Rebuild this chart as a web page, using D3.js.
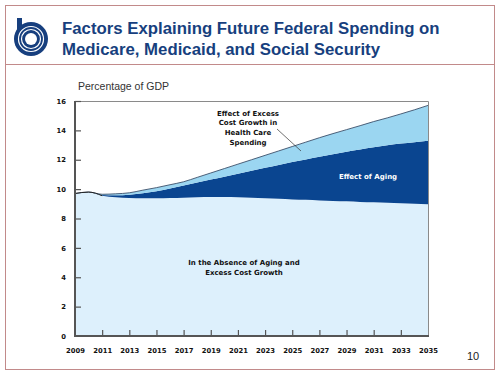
<!DOCTYPE html>
<html>
<head>
<meta charset="utf-8">
<script src="https://cdn.jsdelivr.net/npm/d3@7"></script>
<style>
  html, body { margin: 0; padding: 0; background: #fff; }
  svg { display: block; }
</style>
</head>
<body>
<svg id="chart" width="500" height="375"></svg>
<script>
// ---- data (percentage of GDP) ----
const years = d3.range(2009, 2036);
const baseline = [9.7, 9.8, 9.55, 9.45, 9.4, 9.38, 9.38, 9.4, 9.42, 9.45, 9.47, 9.47, 9.45, 9.42,
  9.38, 9.34, 9.3, 9.27, 9.23, 9.2, 9.17, 9.13, 9.1, 9.07, 9.04, 9.0, 8.97];
const withAging = [9.7, 9.8, 9.6, 9.58, 9.62, 9.72, 9.85, 10.05, 10.25, 10.45, 10.65, 10.85, 11.05, 11.25,
  11.45, 11.65, 11.85, 12.02, 12.2, 12.38, 12.55, 12.7, 12.85, 12.98, 13.1, 13.2, 13.3];
const total = [9.7, 9.8, 9.65, 9.68, 9.75, 9.93, 10.1, 10.3, 10.5, 10.8, 11.1, 11.4, 11.7, 12.0,
  12.3, 12.6, 12.9, 13.2, 13.5, 13.78, 14.05, 14.32, 14.6, 14.85, 15.12, 15.4, 15.7];
const yTicks = [0, 2, 4, 6, 8, 10, 12, 14, 16];
const xTicks = d3.range(2009, 2036, 2);
const titleLines = ["Factors Explaining Future Federal Spending on", "Medicare, Medicaid, and Social Security"];

const svg = d3.select("#chart");

// ---- page frame ----
const frameColor = "#c28a8a";
svg.append("rect").attr("x", 5.5).attr("y", 5.5).attr("width", 489).attr("height", 364)
  .attr("fill", "none").attr("stroke", frameColor).attr("stroke-width", 1);
svg.append("line").attr("x1", 5.5).attr("x2", 494.5).attr("y1", 64.5).attr("y2", 64.5)
  .attr("stroke", frameColor).attr("stroke-width", 1);

// ---- logo ----
const navy = "#173f7e";
const logo = svg.append("g").attr("transform", "translate(31,39)");
logo.append("rect").attr("x", -14).attr("y", -21).attr("width", 5).attr("height", 14).attr("fill", navy);
logo.append("circle").attr("r", 17).attr("fill", navy);
logo.append("circle").attr("r", 12.5).attr("fill", "none").attr("stroke", "#fff").attr("stroke-width", 1.2);
logo.append("circle").attr("r", 9.5).attr("fill", "none").attr("stroke", "#fff").attr("stroke-width", 1.2);
logo.append("circle").attr("r", 6).attr("fill", "#fff");

// ---- title ----
svg.append("g").selectAll("text").data(titleLines).join("text")
  .attr("x", 62).attr("y", (d, i) => 34 + i * 21)
  .attr("font-family", "Liberation Sans, Arial, sans-serif")
  .attr("font-weight", "bold").attr("font-size", 16.8)
  .attr("fill", navy).text(d => d);

// ---- scales ----
const x = d3.scaleLinear().domain([2009, 2035]).range([75, 428]);
const y = d3.scaleLinear().domain([0, 16]).range([336, 101]);

const rows = years.map((yr, i) => ({ yr, b: baseline[i], a: withAging[i], t: total[i] }));
const curve = d3.curveMonotoneX;

// areas
svg.append("path").datum(rows).attr("fill", "#ddf0fc")
  .attr("d", d3.area().curve(curve).x(d => x(d.yr)).y0(y(0)).y1(d => y(d.b)));
svg.append("path").datum(rows).attr("fill", "#0a4590")
  .attr("d", d3.area().curve(curve).x(d => x(d.yr)).y0(d => y(d.b)).y1(d => y(d.a)));
svg.append("path").datum(rows).attr("fill", "#9bd6f1")
  .attr("d", d3.area().curve(curve).x(d => x(d.yr)).y0(d => y(d.a)).y1(d => y(d.t)));
svg.append("path").datum(rows).attr("fill", "none").attr("stroke", "#3b4f6a").attr("stroke-width", 0.9)
  .attr("d", d3.line().curve(curve).x(d => x(d.yr)).y(d => y(d.t)));
svg.append("path").datum(rows.filter(d => d.yr <= 2011)).attr("fill", "none")
  .attr("stroke", "#222").attr("stroke-width", 1)
  .attr("d", d3.line().curve(curve).x(d => x(d.yr)).y(d => y(d.b)));

// frame top/right
svg.append("line").attr("x1", 75).attr("x2", 428.5).attr("y1", 101.5).attr("y2", 101.5)
  .attr("stroke", "#8a8a8a").attr("stroke-width", 1);
svg.append("line").attr("x1", 428.5).attr("x2", 428.5).attr("y1", 101.5).attr("y2", 336)
  .attr("stroke", "#8a8a8a").attr("stroke-width", 1);

// ---- axes ----
const tickFont = "DejaVu Sans, Verdana, sans-serif";
const yAxis = d3.axisRight(y).tickValues(yTicks).tickSize(6).tickFormat(d3.format("d"));
const yg = svg.append("g").attr("transform", "translate(75,0)").call(yAxis);
yg.select(".domain").remove();
yg.selectAll(".tick line").attr("stroke", "#555").attr("stroke-width", 1.2)
  .attr("display", d => d === 0 ? "none" : null);
yg.selectAll(".tick text").attr("x", -9).attr("text-anchor", "end")
  .attr("font-family", tickFont).attr("font-weight", "bold").attr("font-size", 6.8).attr("fill", "#111");

const xAxis = d3.axisTop(x).tickValues(xTicks).tickSize(6).tickFormat(d3.format("d"));
const xg = svg.append("g").attr("transform", "translate(0,336)").call(xAxis);
xg.select(".domain").remove();
xg.selectAll(".tick line").attr("stroke", "#555").attr("stroke-width", 1.2)
  .attr("display", d => (d === 2009 || d === 2035) ? "none" : null);
xg.selectAll(".tick text").attr("y", 16.5).attr("dy", 0)
  .attr("font-family", tickFont).attr("font-weight", "bold").attr("font-size", 6.8).attr("fill", "#111");

// axis lines
svg.append("line").attr("x1", 75).attr("x2", 75).attr("y1", 101).attr("y2", 337)
  .attr("stroke", "#555").attr("stroke-width", 2);
svg.append("line").attr("x1", 74).attr("x2", 429).attr("y1", 336).attr("y2", 336)
  .attr("stroke", "#555").attr("stroke-width", 2);

// ---- labels ----
svg.append("text").attr("x", 78).attr("y", 90)
  .attr("font-family", "Liberation Sans, Arial, sans-serif").attr("font-size", 10.5).attr("fill", "#333")
  .text("Percentage of GDP");

function multi(lines, cx, cy0, lh, fill) {
  svg.append("g").selectAll("text").data(lines).join("text")
    .attr("x", cx).attr("y", (d, i) => cy0 + i * lh).attr("text-anchor", "middle")
    .attr("font-family", tickFont).attr("font-weight", "bold").attr("font-size", 7)
    .attr("fill", fill).text(d => d);
}
multi(["Effect of Excess", "Cost Growth in", "Health Care", "Spending"], 248, 115.5, 9.9, "#111");
multi(["Effect of Aging"], 368, 178.5, 10, "#fff");
multi(["In the Absence of Aging and", "Excess Cost Growth"], 244, 264.5, 10.5, "#111");

svg.append("line").attr("x1", 277).attr("y1", 129).attr("x2", 301).attr("y2", 151)
  .attr("stroke", "#333").attr("stroke-width", 0.7);

svg.append("text").attr("x", 473).attr("y", 360).attr("text-anchor", "middle")
  .attr("font-family", "Liberation Sans, Arial, sans-serif").attr("font-size", 11).attr("fill", "#222")
  .text("10");
</script>
</body>
</html>
